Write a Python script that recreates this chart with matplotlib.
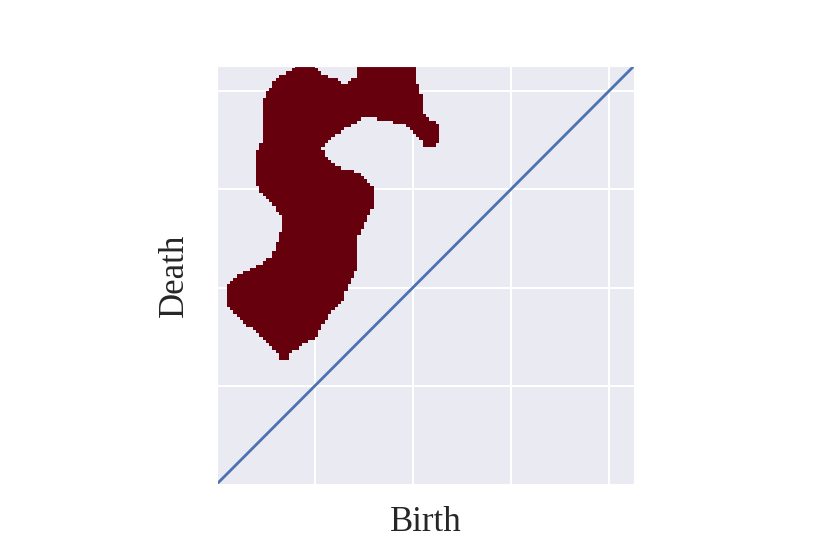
import numpy as np
import matplotlib.pyplot as plt
import seaborn as sns
from matplotlib.path import Path

sns.set_style("darkgrid")
plt.rcParams['font.family'] = ['Liberation Serif', 'DejaVu Serif']

# outline of the region (birth, death)
birth = [0.83, 0.97, 1.00, 1.05, 1.12, 1.20, 1.26, 1.26, 1.33, 1.33, 1.40, 1.43, 1.43,
         2.02, 2.02, 2.05, 2.05, 2.07, 2.09, 2.09, 2.10, 2.15, 2.19, 2.26, 2.26, 2.19,
         2.10, 2.09, 2.05, 2.02, 1.99, 1.97, 1.89, 1.77, 1.59, 1.46, 1.43, 1.38, 1.33,
         1.28, 1.23, 1.18, 1.13, 1.10, 1.07, 1.08, 1.10, 1.13, 1.17, 1.22, 1.33, 1.43,
         1.49, 1.53, 1.59, 1.62, 1.59, 1.58, 1.55, 1.51, 1.49, 1.46, 1.43, 1.43, 1.41,
         1.39, 1.36, 1.33, 1.29, 1.26, 1.23, 1.18, 1.15, 1.13, 1.08, 1.07, 1.03, 1.01,
         0.97, 0.92, 0.85, 0.82, 0.72, 0.72, 0.62, 0.62, 0.59, 0.56, 0.52, 0.47, 0.44,
         0.41, 0.37, 0.31, 0.26, 0.20, 0.16, 0.12, 0.09, 0.09, 0.10, 0.13, 0.18, 0.23,
         0.30, 0.37, 0.44, 0.52, 0.56, 0.59, 0.61, 0.62, 0.65, 0.65, 0.62, 0.59, 0.54,
         0.51, 0.47, 0.43, 0.41, 0.40, 0.40, 0.43, 0.47, 0.47, 0.49, 0.50, 0.52, 0.53,
         0.56, 0.59, 0.62, 0.66, 0.72, 0.77]
death = [4.30, 4.30, 4.23, 4.19, 4.16, 4.13, 4.09, 4.06, 4.06, 4.09, 4.13, 4.16, 4.30,
         4.30, 4.19, 4.16, 4.06, 4.03, 3.92, 3.82, 3.80, 3.74, 3.71, 3.66, 3.46, 3.44,
         3.44, 3.49, 3.53, 3.56, 3.59, 3.63, 3.66, 3.69, 3.73, 3.73, 3.69, 3.66, 3.63,
         3.59, 3.56, 3.53, 3.49, 3.46, 3.43, 3.39, 3.36, 3.31, 3.28, 3.23, 3.20, 3.17,
         3.13, 3.10, 3.03, 2.90, 2.82, 2.77, 2.72, 2.66, 2.61, 2.56, 2.51, 2.20, 2.16,
         2.10, 2.06, 2.00, 1.88, 1.86, 1.81, 1.76, 1.72, 1.67, 1.62, 1.57, 1.54, 1.50,
         1.47, 1.44, 1.40, 1.37, 1.34, 1.27, 1.27, 1.34, 1.37, 1.40, 1.44, 1.47, 1.50,
         1.54, 1.57, 1.62, 1.67, 1.72, 1.76, 1.80, 1.81, 2.00, 2.03, 2.06, 2.10, 2.13,
         2.16, 2.20, 2.23, 2.29, 2.32, 2.37, 2.42, 2.51, 2.56, 2.72, 2.77, 2.82, 2.87,
         2.90, 2.95, 3.00, 3.03, 3.10, 3.36, 3.46, 3.49, 3.89, 3.93, 3.96, 3.99, 4.03,
         4.06, 4.09, 4.13, 4.16, 4.19, 4.23]

lim = 4.255
ticks = [1, 2, 3, 4]

# rasterize the outline on a pixel grid
edges = np.arange(0, 4.34, 1 / 30)
centers = (edges[:-1] + edges[1:]) / 2
bx, dy = np.meshgrid(centers, centers)
inside = Path(np.column_stack([birth, death])).contains_points(
    np.column_stack([bx.ravel(), dy.ravel()])).reshape(bx.shape)
img = np.ma.masked_where(~inside, np.ones(bx.shape))

fig = plt.figure(figsize=(8.3, 5.54), dpi=100)
ax = fig.add_axes([0.2614, 0.1264, 0.5024, 0.7545])
ax.pcolormesh(edges, edges, img, cmap='Reds', vmin=0, vmax=1,
              edgecolors='none', antialiased=True)
ax.plot([0, lim], [0, lim], color='#4C72B0', linewidth=2.0)

ax.set_xlim(0, lim)
ax.set_ylim(0, lim)
ax.set_xticks(ticks)
ax.set_yticks(ticks)
ax.set_xticklabels([])
ax.set_yticklabels([])
ax.tick_params(length=0)
ax.grid(color='white', linewidth=1.5)
ax.set_xlabel("Birth", fontsize=25, labelpad=12)
ax.set_ylabel("Death", fontsize=25, labelpad=15)

plt.savefig("out.png", dpi=100)
plt.close()
